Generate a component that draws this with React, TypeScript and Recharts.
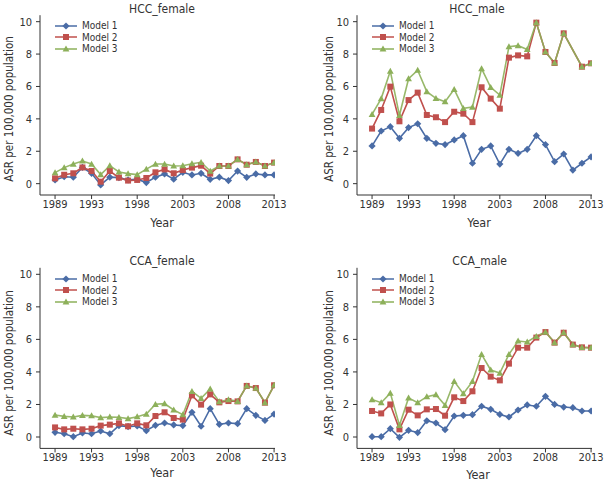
import React from 'react'
import { LineChart, Line, XAxis, YAxis, Legend } from 'recharts'

const years = [
  1989, 1990, 1991, 1992, 1993, 1994, 1995, 1996, 1997, 1998, 1999, 2000, 2001,
  2002, 2003, 2004, 2005, 2006, 2007, 2008, 2009, 2010, 2011, 2012, 2013,
]
const xTicks = [1989, 1993, 1998, 2003, 2008, 2013]
const yTicks = [0, 2, 4, 6, 8, 10]
const seriesNames = ['Model 1', 'Model 2', 'Model 3']

// HCC female
const hccFemale1 = [0.23, 0.43, 0.4, 1.0, 0.64, -0.08, 0.4, 0.37, 0.23, 0.28, 0.07, 0.4, 0.6, 0.28, 0.7, 0.54, 0.64, 0.27, 0.4, 0.19, 0.78, 0.39, 0.6, 0.54, 0.54]
const hccFemale2 = [0.33, 0.55, 0.64, 1.0, 0.78, 0.12, 0.78, 0.37, 0.19, 0.23, 0.35, 0.7, 0.88, 0.64, 0.84, 0.99, 1.11, 0.62, 1.09, 1.09, 1.5, 1.17, 1.34, 1.09, 1.3]
const hccFemale3 = [0.68, 0.99, 1.21, 1.4, 1.21, 0.56, 1.11, 0.72, 0.62, 0.56, 0.9, 1.21, 1.21, 1.09, 1.11, 1.23, 1.32, 0.78, 1.09, 1.09, 1.5, 1.17, 1.34, 1.09, 1.3]

// HCC male (no 2011 value for models 2 and 3)
const hccMale1 = [2.33, 3.25, 3.52, 2.8, 3.46, 3.7, 2.8, 2.49, 2.41, 2.7, 2.96, 1.26, 2.12, 2.33, 1.21, 2.12, 1.87, 2.12, 2.96, 2.41, 1.36, 1.83, 0.84, 1.26, 1.65]
const hccMale2 = [3.4, 4.55, 5.99, 3.85, 5.16, 5.62, 4.24, 4.1, 3.8, 4.44, 4.32, 3.8, 5.95, 5.25, 4.63, 7.78, 7.92, 7.86, 9.94, 8.13, 7.45, 9.28, null, 7.22, 7.43]
const hccMale3 = [4.28, 5.25, 6.95, 4.22, 6.48, 7.0, 5.68, 5.27, 5.06, 5.82, 4.65, 4.73, 7.1, 5.95, 5.47, 8.46, 8.52, 8.29, 9.94, 8.13, 7.45, 9.28, null, 7.22, 7.43]

// CCA female
const ccaFemale1 = [0.29, 0.2, 0.02, 0.25, 0.2, 0.37, 0.2, 0.7, 0.64, 0.68, 0.39, 0.72, 0.86, 0.74, 0.7, 1.52, 0.66, 1.74, 0.78, 0.86, 0.82, 1.74, 1.33, 1.02, 1.41]
const ccaFemale2 = [0.59, 0.47, 0.51, 0.47, 0.51, 0.7, 0.76, 0.84, 0.66, 0.84, 0.72, 1.29, 1.52, 1.17, 1.07, 2.56, 1.99, 2.62, 2.13, 2.21, 2.19, 3.14, 3.01, 2.11, 3.18]
const ccaFemale3 = [1.35, 1.27, 1.23, 1.33, 1.31, 1.19, 1.23, 1.21, 1.13, 1.25, 1.41, 2.01, 2.05, 1.66, 1.37, 2.81, 2.38, 2.95, 2.17, 2.3, 2.19, 3.14, 3.01, 2.11, 3.18]

// CCA male
const ccaMale1 = [0.02, 0.02, 0.51, -0.02, 0.41, 0.27, 1.0, 0.86, 0.45, 1.29, 1.33, 1.37, 1.89, 1.7, 1.39, 1.23, 1.66, 1.97, 1.89, 2.5, 2.0, 1.84, 1.8, 1.6, 1.6]
const ccaMale2 = [1.6, 1.45, 2.0, 0.47, 1.68, 1.33, 1.7, 1.72, 1.31, 2.44, 2.21, 2.81, 4.24, 3.71, 3.48, 4.51, 5.49, 5.49, 6.11, 6.45, 5.8, 6.41, 5.68, 5.51, 5.49]
const ccaMale3 = [2.3, 2.11, 2.7, 0.72, 2.4, 2.11, 2.48, 2.6, 1.95, 3.42, 2.66, 3.42, 5.08, 4.12, 3.93, 5.08, 5.9, 5.84, 6.19, 6.45, 5.8, 6.41, 5.68, 5.51, 5.49]

const BLUE = '#4a6ca6'
const RED = '#c0504d'
const GREEN = '#8db05a'
const COLORS = [BLUE, RED, GREEN]
const FONT = "'Liberation Sans Narrow', 'DejaVu Sans Condensed', 'Arial Narrow', sans-serif"
const TEXT = '#333'

function Marker({ shape, cx, cy, color }: { shape: number; cx: number; cy: number; color: string }) {
  if (shape === 0) {
    return <path d={`M${cx},${cy - 3.6}L${cx + 3.6},${cy}L${cx},${cy + 3.6}L${cx - 3.6},${cy}Z`} fill={color} />
  }
  if (shape === 1) {
    return <rect x={cx - 3} y={cy - 3} width={6} height={6} fill={color} />
  }
  return <path d={`M${cx},${cy - 3.4}L${cx + 3.4},${cy + 2.6}L${cx - 3.4},${cy + 2.6}Z`} fill={color} />
}

function makeDot(shape: number) {
  return (p: any) => {
    if (p.cx == null || p.cy == null || p.value == null) return <g key={p.index} />
    return (
      <g key={p.index}>
        <Marker shape={shape} cx={p.cx} cy={p.cy} color={COLORS[shape]} />
      </g>
    )
  }
}

function LegendBox() {
  return (
    <div style={{ fontFamily: FONT, fontSize: 10, color: TEXT }}>
      {seriesNames.map((name, i) => (
        <div key={name} style={{ display: 'flex', alignItems: 'center', height: 11.5 }}>
          <svg width={27} height={10} style={{ display: 'block' }}>
            <line x1={0} y1={5} x2={22} y2={5} stroke={COLORS[i]} strokeWidth={1.5} />
            <Marker shape={i} cx={11} cy={5} color={COLORS[i]} />
          </svg>
          <span style={{ display: 'block', lineHeight: '11px', height: 11 }}>{name}</span>
        </div>
      ))}
    </div>
  )
}

interface PanelProps {
  title: string
  m1: (number | null)[]
  m2: (number | null)[]
  m3: (number | null)[]
  left: number
  top: number
  plotLeft: number
  plotRight: number
  plotTop: number
  plotBottom: number
  ylabX: number
  ylabY: number
  titleX: number
  titleY: number
  yearX: number
  yearY: number
}

function Panel(props: PanelProps) {
  const { title, m1, m2, m3, left, top, plotLeft, plotRight, plotTop, plotBottom } = props
  const data = years.map((year, i) => ({ year, m1: m1[i], m2: m2[i], m3: m3[i] }))
  const W = 304
  const H = 242
  const tickStyle = { fill: TEXT, fontSize: 11, fontFamily: FONT }
  const center: React.CSSProperties = {
    position: 'absolute',
    transform: 'translate(-50%, -50%)',
    whiteSpace: 'nowrap',
    fontFamily: FONT,
    color: TEXT,
  }
  return (
    <div style={{ position: 'absolute', left, top, width: W, height: H }}>
      <LineChart
        width={W}
        height={H}
        data={data}
        margin={{ top: plotTop, right: W - plotRight, bottom: H - plotBottom - 30, left: 0 }}
      >
        <XAxis
          dataKey="year"
          type="number"
          domain={[1987.35, 2013.1]}
          ticks={xTicks}
          allowDataOverflow
          height={30}
          tickSize={4}
          tickMargin={1}
          tick={tickStyle}
          stroke="#333"
          interval={0}
        />
        <YAxis
          type="number"
          domain={[-0.7, 10.4]}
          ticks={yTicks}
          allowDataOverflow
          width={plotLeft}
          tickSize={4}
          tickMargin={4}
          tick={tickStyle}
          stroke="#333"
          interval={0}
        />
        <Legend
          layout="vertical"
          align="center"
          verticalAlign="middle"
          content={() => <LegendBox />}
          wrapperStyle={{ left: plotLeft + 15, top: plotTop + 5, width: 'auto', height: 'auto' }}
        />
        <Line
          type="linear"
          dataKey="m1"
          stroke={BLUE}
          strokeWidth={1.6}
          dot={makeDot(0)}
          activeDot={false}
          connectNulls
          isAnimationActive={false}
        />
        <Line
          type="linear"
          dataKey="m2"
          stroke={RED}
          strokeWidth={1.6}
          dot={makeDot(1)}
          activeDot={false}
          connectNulls
          isAnimationActive={false}
        />
        <Line
          type="linear"
          dataKey="m3"
          stroke={GREEN}
          strokeWidth={1.6}
          strokeOpacity={0.9}
          dot={makeDot(2)}
          activeDot={false}
          connectNulls
          isAnimationActive={false}
        />
      </LineChart>
      <div style={{ ...center, left: props.titleX, top: props.titleY, fontSize: 12 }}>{title}</div>
      <div style={{ ...center, left: props.yearX, top: props.yearY, fontSize: 12.5 }}>Year</div>
      <div
        style={{
          ...center,
          left: props.ylabX,
          top: props.ylabY,
          fontSize: 11.5,
          transform: 'translate(-50%, -50%) rotate(-90deg)',
        }}
      >
        ASR per 100,000 population
      </div>
    </div>
  )
}

export default function App() {
  return (
    <div style={{ position: 'absolute', left: 0, top: 0, width: 608, height: 484, background: '#fff', overflow: 'hidden' }}>
      <Panel
        title="HCC_female"
        m1={hccFemale1}
        m2={hccFemale2}
        m3={hccFemale3}
        left={0}
        top={0}
        plotLeft={40}
        plotRight={275}
        plotTop={15.2}
        plotBottom={195}
        ylabX={9}
        ylabY={109}
        titleX={162}
        titleY={9}
        yearX={162}
        yearY={222}
      />
      <Panel
        title="HCC_male"
        m1={hccMale1}
        m2={hccMale2}
        m3={hccMale3}
        left={304}
        top={0}
        plotLeft={53}
        plotRight={288}
        plotTop={15.2}
        plotBottom={195}
        ylabX={25}
        ylabY={109}
        titleX={173}
        titleY={9}
        yearX={175}
        yearY={222}
      />
      <Panel
        title="CCA_female"
        m1={ccaFemale1}
        m2={ccaFemale2}
        m3={ccaFemale3}
        left={0}
        top={242}
        plotLeft={40}
        plotRight={275}
        plotTop={25.8}
        plotBottom={206.4}
        ylabX={9}
        ylabY={120.7}
        titleX={162}
        titleY={19.3}
        yearX={162}
        yearY={230}
      />
      <Panel
        title="CCA_male"
        m1={ccaMale1}
        m2={ccaMale2}
        m3={ccaMale3}
        left={304}
        top={242}
        plotLeft={53}
        plotRight={288}
        plotTop={25.8}
        plotBottom={206.4}
        ylabX={25}
        ylabY={120.7}
        titleX={175.7}
        titleY={19}
        yearX={174}
        yearY={232}
      />
    </div>
  )
}
